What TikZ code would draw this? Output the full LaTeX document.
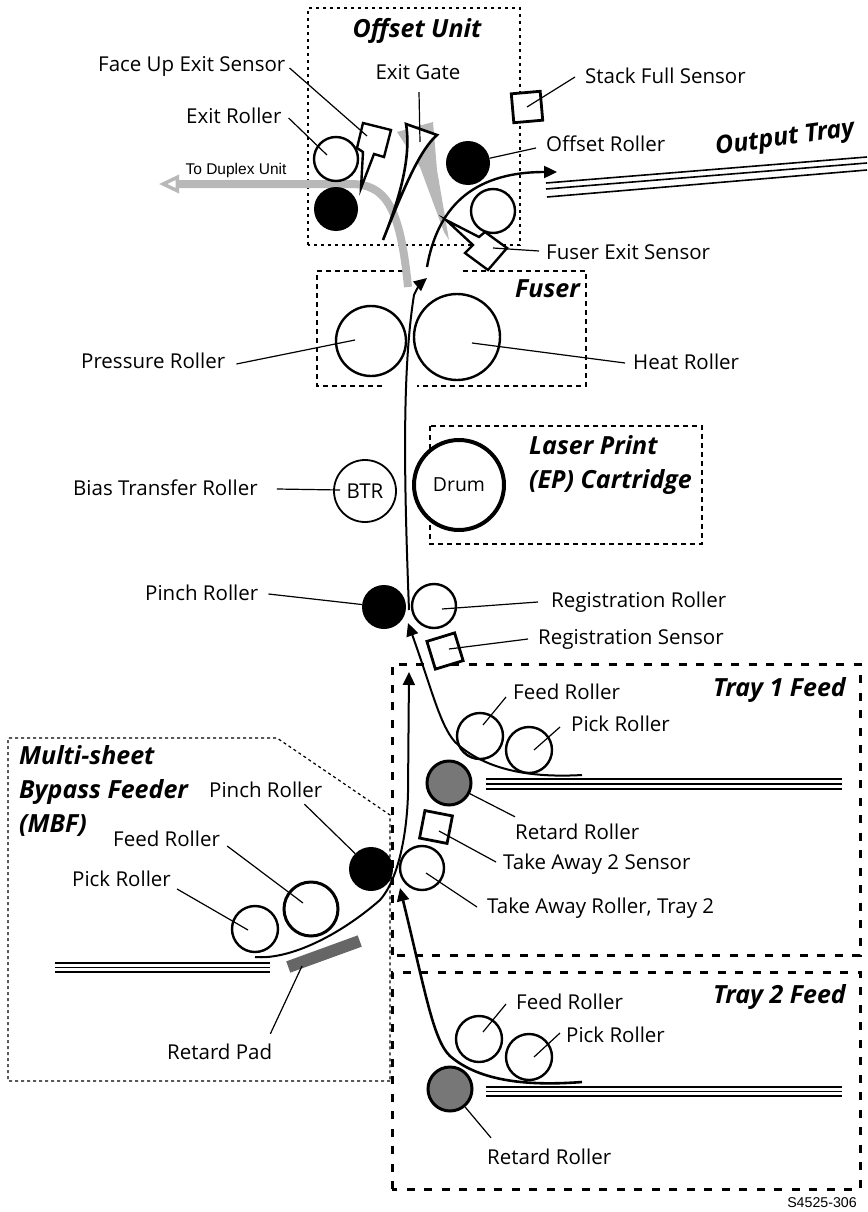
\documentclass[tikz,border=0pt]{standalone}
\usepackage{fontspec}
\setmainfont{Open Sans}
\setsansfont{Liberation Sans}
\usetikzlibrary{arrows.meta}
\definecolor{ppPipe}{HTML}{B8B8B8}
\definecolor{ppRetard}{HTML}{777777}
\definecolor{ppPad}{HTML}{666666}
\begin{document}
\begin{tikzpicture}[
  x=1pt,y=-1pt,
  txt/.style={font=\fontsize{20.5}{24}\selectfont,inner sep=2pt,text height=14pt,text depth=0pt},
  lbl/.style={txt,anchor=west},
  unittitle/.style={font=\fontsize{25}{34}\selectfont\bfseries\itshape,inner sep=0pt,anchor=west,align=left},
  small/.style={font=\sffamily\fontsize{15.5}{18}\selectfont,inner sep=0pt},
  roller/.style={circle,draw,fill=white,inner sep=0pt,line width=2.4pt,minimum size=#1},
  pinch/.style={circle,fill=black,inner sep=0pt,minimum size=#1},
  retard/.style={circle,draw,fill=ppRetard,inner sep=0pt,line width=3pt,minimum size=44pt},
  sensorbox/.style={draw,fill=white,inner sep=0pt,line width=2.8pt,minimum size=#1},
  sensorpoly/.style={draw,fill=white,line width=2.4pt,line join=miter},
  leader/.style={line width=1.2pt},
  feedpath/.style={line width=2pt},
  feedarrow/.style={feedpath,-{Triangle[length=13pt,width=12pt]}},
  trayline/.style={line width=1.6pt},
  dotbox/.style={line width=1.8pt,dash pattern=on 3pt off 4pt},
  dashbox/.style={line width=1.8pt,dash pattern=on 5pt off 4pt},
  traybox/.style={line width=3pt,dash pattern=on 8pt off 9.5pt},
  mbfbox/.style={line width=1.2pt,dash pattern=on 3pt off 3pt}
]
\useasboundingbox (0,0) rectangle (867,1212);
% unit outlines
\draw[dotbox] (308,245) rectangle (520,8);
\draw[dashbox] (403,271) -- (317,271) -- (317,386) -- (383,386);
\draw[dashbox] (463,271) -- (586,271) -- (586,386) -- (417,386);
\draw[dashbox] (430,426) rectangle (702,544);
\draw[mbfbox] (390,1081) -- (8,1081) -- (8,738) -- (277,738) -- (390,815) -- cycle;
\draw[traybox] (392,955) -- (392,664) -- (860,664) -- (860,955) -- cycle;
\draw[traybox] (392,1189) -- (392,972) -- (860,972) -- (860,1189) -- cycle;
% titles
\node[unittitle,anchor=center] (offsetTitle) at (417,31) {Offset Unit};
\node[unittitle] (fuserTitle) at (515,289) {Fuser};
\node[unittitle] (laserTitle) at (529,465) {Laser Print\\(EP) Cartridge};
\node[unittitle] (trayOneTitle) at (713,690) {Tray 1 Feed};
\node[unittitle] (trayTwoTitle) at (713,997) {Tray 2 Feed};
\node[unittitle] (mbfTitle) at (19,791) {Multi-sheet\\Bypass Feeder\\(MBF)};
\node[unittitle,anchor=center,rotate=8] (outputTitle) at (785,139) {Output Tray};
% gray duplex path and gate shadow
\coordinate (pipeStart) at (408,287);
\coordinate (pipeEnd) at (159,184);
\draw[ppPipe,line width=8pt,-{Triangle[open,length=20pt,width=18pt,line width=3.5pt]}]
  (pipeStart) .. controls (400,205) and (385,184) .. (350,184) -- (pipeEnd);
\fill[ppPipe] (397,132) -- (433,122) -- (437,170) -- (449,240) -- (444,232) -- (420,167) -- cycle;
\node[small] (duplexLabel) at (236,170) {To Duplex Unit};
% trays
\draw[trayline] (546,183) -- (867,157);
\draw[trayline] (546,189) -- (867,163);
\draw[trayline] (547,197) -- (867,170);
\foreach \y in {963,967.5,972} {\draw[trayline] (55,\y) -- (270,\y);}
\foreach \y in {779,784,789} {\draw[trayline] (486,\y) -- (842,\y);}
\foreach \y in {1087,1091.5,1096} {\draw[trayline] (486,\y) -- (842,\y);}
% exit gate
\draw[sensorpoly,line width=2.6pt] (406,124) -- (437,135) .. controls (420,150) and (405,185) .. (383,240)
  .. controls (397,205) and (412,160) .. cycle;
% rollers
\node[roller=44pt] (exitRoller) at (336,159) {};
\node[pinch=44pt] (exitPinch) at (336,209) {};
\node[pinch=44pt] (offsetRoller) at (468,163) {};
\node[roller=44pt] (fuserExitRoller) at (493,211) {};
\node[roller=70pt] (pressureRoller) at (371,341) {};
\node[roller=86pt] (heatRoller) at (457,337) {};
\node[roller=62pt,line width=1.8pt,font=\fontsize{20.5}{24}\selectfont] (btrRoller) at (365,491) {BTR};
\node[roller=90pt,line width=4pt,font=\fontsize{19.4}{23}\selectfont] (drum) at (459,485) {Drum};
\node[pinch=44pt] (pinchRoller) at (384,607) {};
\node[roller=44pt] (regRoller) at (434,606) {};
\node[roller=46pt] (feedOne) at (480,736) {};
\node[roller=46pt] (pickOne) at (529,750) {};
\node[retard] (retardOne) at (449,783) {};
\node[roller=44pt] (takeAwayRoller) at (422,868) {};
\node[pinch=44pt] (mbfPinch) at (371,869) {};
\node[roller=54pt,line width=3pt] (mbfFeed) at (311,909) {};
\node[roller=46pt] (mbfPick) at (255,929) {};
\node[roller=46pt] (feedTwo) at (479,1039) {};
\node[roller=46pt] (pickTwo) at (529,1057) {};
\node[retard] (retardTwo) at (450,1089) {};
% sensors
\node[sensorbox=29pt,rotate=5] (stackSensor) at (527,107) {};
\node[sensorbox=29pt,rotate=17] (regSensor) at (445,651) {};
\node[sensorbox=28pt,rotate=-11] (takeAwaySensor) at (436,827) {};
\draw[sensorpoly] (363,123) -- (391,130) -- (384,157) -- (374,154) -- (361,188) -- (363,152) -- (357,148) -- cycle;
\draw[sensorpoly] (446,220) -- (479,237) -- (485,232) -- (507,248) -- (488,270) -- (465,253) -- (473,245) -- cycle;
\coordinate (faceUpEnd) at (367,136);
\coordinate (fuserExitEnd) at (493,248);
\node[fill=ppPad,inner sep=0pt,minimum width=76pt,minimum height=12pt,rotate=20] (retardPad) at (324,954) {};
% paper paths
\coordinate (outStart) at (427,267);
\coordinate (outEnd) at (557,172);
\coordinate (mainStart) at (409,610);
\coordinate (mainEnd) at (427,278);
\coordinate (mbfStart) at (255,957);
\coordinate (mbfEnd) at (409,672);
\coordinate (oneStart) at (582,775);
\coordinate (oneEnd) at (408,623);
\coordinate (twoStart) at (582,1082);
\coordinate (twoEnd) at (400,888);
\draw[feedarrow,line width=2.4pt] (outStart) .. controls (437,210) and (470,172) .. (outEnd);
\draw[feedarrow] (mainStart) .. controls (404,480) and (402,370) .. (414,295) .. controls (417,288) and (421,283) .. (mainEnd);
\draw[feedarrow] (mbfStart) .. controls (290,960) and (340,935) .. (380,900) .. controls (398,880) and (407,835) .. (408,793) -- (mbfEnd);
\draw[feedarrow] (oneStart) .. controls (530,778) and (485,770) .. (455,742) .. controls (440,725) and (432,690) .. (oneEnd);
\draw[feedarrow,line width=2.6pt] (twoStart) .. controls (530,1086) and (480,1082) .. (450,1056) .. controls (433,1040) and (425,990) .. (twoEnd);
% labels
\node[lbl] (faceUpLabel) at (96,65) {Face Up Exit Sensor};
\node[lbl] (exitLabel) at (184,117) {Exit Roller};
\node[txt] (gateLabel) at (418,73) {Exit Gate};
\node[lbl] (stackLabel) at (583,77) {Stack Full Sensor};
\node[lbl] (offsetLabel) at (544,144) {Offset Roller};
\node[lbl] (fuserExitLabel) at (544,252) {Fuser Exit Sensor};
\node[lbl] (pressureLabel) at (79,361) {Pressure Roller};
\node[lbl] (heatLabel) at (631,362) {Heat Roller};
\node[lbl] (btrLabel) at (71,488) {Bias Transfer Roller};
\node[lbl] (pinchLabel) at (143,593) {Pinch Roller};
\node[lbl] (regLabel) at (549,600) {Registration Roller};
\node[lbl] (regSensorLabel) at (536,637) {Registration Sensor};
\node[lbl] (feedOneLabel) at (511,692) {Feed Roller};
\node[lbl] (pickOneLabel) at (569,724) {Pick Roller};
\node[lbl] (retardOneLabel) at (513,832) {Retard Roller};
\node[lbl] (takeAwaySensorLabel) at (501,862) {Take Away 2 Sensor};
\node[lbl] (takeAwayLabel) at (485,906) {Take Away Roller, Tray 2};
\node[lbl] (mbfPinchLabel) at (207,790) {Pinch Roller};
\node[lbl] (mbfFeedLabel) at (111,839) {Feed Roller};
\node[lbl] (mbfPickLabel) at (70,879) {Pick Roller};
\node[lbl] (padLabel) at (165,1052) {Retard Pad};
\node[lbl] (feedTwoLabel) at (514,1002) {Feed Roller};
\node[lbl] (pickTwoLabel) at (564,1035) {Pick Roller};
\node[lbl] (retardTwoLabel) at (485,1157) {Retard Roller};
\node[small,font=\sffamily\fontsize{14.2}{17}\selectfont] (partLabel) at (822,1203) {S4525-306};
% leaders
\draw[leader] (faceUpLabel.east) ++(2,3) -- (faceUpEnd);
\draw[leader] (exitLabel.east) ++(5,1) -- ([shift={(-9,-4)}]exitRoller.center);
\draw[leader] (gateLabel.south) ++(1,10) -- (420,142);
\draw[leader] (stackLabel.west) ++(-8,0) -- (stackSensor.center);
\draw[leader] (offsetLabel.west) ++(-8,4) -- (offsetRoller);
\draw[leader] (fuserExitLabel.west) ++(-5,-1) -- (fuserExitEnd);
\draw[leader] (pressureLabel.east) ++(9,3) -- ([shift={(-16,-1)}]pressureRoller.center);
\draw[leader] (heatLabel.west) ++(-6,1) -- ([shift={(15,6)}]heatRoller.center);
\draw[leader] (btrLabel.east) ++(17,1) -- ([shift={(-25,-1)}]btrRoller.center);
\draw[leader] (pinchLabel.east) ++(8,1) -- (pinchRoller);
\draw[leader] (regLabel.west) ++(-11,2) -- ([shift={(8,3)}]regRoller.center);
\draw[leader] (regSensorLabel.west) ++(-8,2) -- ([shift={(4,-2)}]regSensor.center);
\draw[leader] (feedOneLabel.west) ++(-5,5) -- ([shift={(3,-11)}]feedOne.center);
\draw[leader] (pickOneLabel.west) ++(-9,3) -- ([shift={(5,0)}]pickOne.center);
\draw[leader] (retardOneLabel.north west) ++(2,-6) -- (retardOne);
\draw[leader] (takeAwaySensorLabel.west) ++(-5,0) -- ([shift={(3,4)}]takeAwaySensor.center);
\draw[leader] (takeAwayLabel.west) ++(-8,1) -- ([shift={(4,5)}]takeAwayRoller.center);
\draw[leader] (mbfPinchLabel.south east) ++(-20,5) -- (mbfPinch);
\draw[leader] (mbfFeedLabel.east) ++(5,7) -- ([shift={(-8,-6)}]mbfFeed.center);
\draw[leader] (mbfPickLabel.east) ++(4,10) -- ([shift={(-7,1)}]mbfPick.center);
\draw[leader] (padLabel.north east) ++(-4,-9) -- ([shift={(-22,12)}]retardPad.center);
\draw[leader] (feedTwoLabel.west) ++(-8,2) -- ([shift={(4,-7)}]feedTwo.center);
\draw[leader] (pickTwoLabel.west) ++(-4,-2) -- ([shift={(5,0)}]pickTwo.center);
\draw[leader] (retardTwoLabel.north west) ++(6,-10) -- (retardTwo);
\end{tikzpicture}
\end{document}
